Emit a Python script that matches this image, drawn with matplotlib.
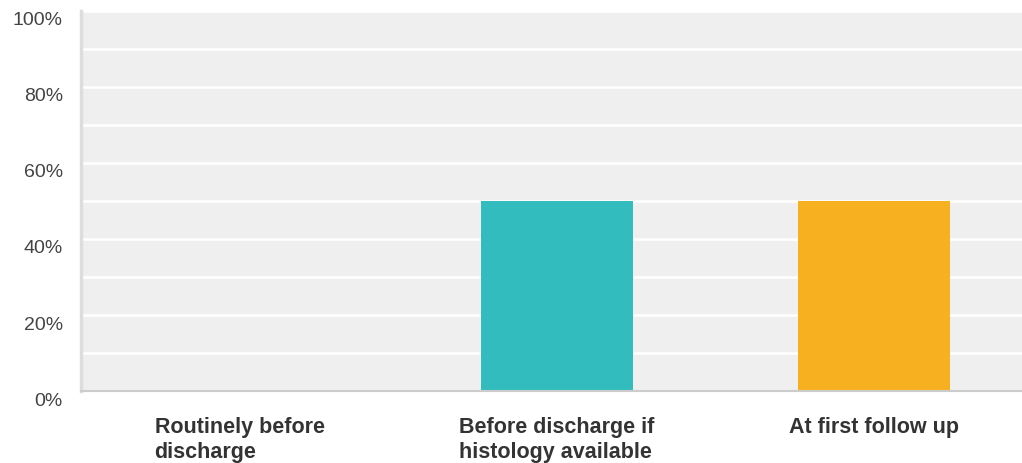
import numpy as np
import matplotlib.pyplot as plt
import matplotlib.transforms as mtransforms

categories = ["Routinely before\ndischarge",
              "Before discharge if\nhistology available",
              "At first follow up"]
values = [0, 50, 50]
bar_colors = ["#3a75c4", "#33bcbe", "#f7b01f"]
yticks = [0, 20, 40, 60, 80, 100]
ytick_labels = ["0%", "20%", "40%", "60%", "80%", "100%"]

plt.rcParams['font.family'] = ['Liberation Sans', 'DejaVu Sans']

fig = plt.figure(figsize=(10.22, 4.63), dpi=100)
W, H = 1022, 463
left, right, top, bottom = 81, 1022, 11, 391
ax = fig.add_axes([left / W, (H - bottom) / H, (right - left) / W, (bottom - top) / H])
ax.set_facecolor("#efefef")

x = np.arange(len(categories))
ax.bar(x, values, width=0.48, color=bar_colors, edgecolor="none", zorder=3)

ax.set_xlim(-0.5, 2.467)
ax.set_ylim(0, 100)

# white grid every 10%
ax.set_yticks(np.arange(0, 101, 10), minor=True)
ax.grid(True, axis='y', which='both', color='white', lw=1.8, zorder=1)
ax.grid(False, axis='x')

ax.set_yticks(yticks)
ax.set_yticklabels(ytick_labels, fontsize=14, color="#444444")
ax.set_xticks(x)
ax.set_xticklabels(categories, fontsize=15.5, fontweight='bold', color="#333333",
                   multialignment='left', linespacing=1.2)
ax.tick_params(axis='both', which='both', length=0)
ax.tick_params(axis='y', pad=13)
ax.tick_params(axis='x', pad=19)

# labels sit a bit below their gridlines
offset = mtransforms.ScaledTranslation(0, -8 / 100, fig.dpi_scale_trans)
for lab in ax.get_yticklabels():
    lab.set_transform(lab.get_transform() + offset)

for s in ['top', 'right']:
    ax.spines[s].set_visible(False)
ax.spines['left'].set_color("#dddddd")
ax.spines['left'].set_linewidth(2.5)
ax.spines['bottom'].set_color("#cccccc")
ax.spines['bottom'].set_linewidth(1.5)
ax.spines['bottom'].set_zorder(4)

fig.savefig("out.png", dpi=100)
